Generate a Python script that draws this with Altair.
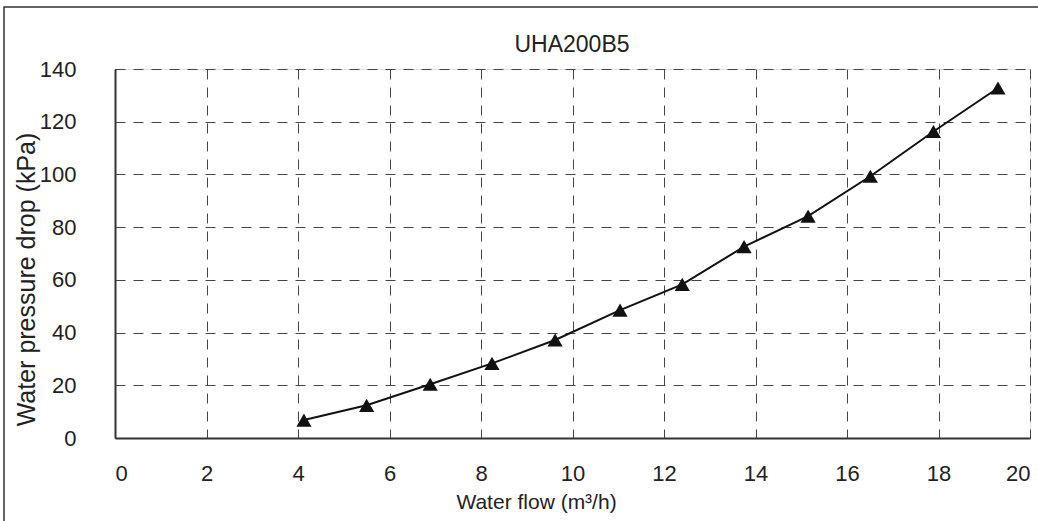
import altair as alt
import pandas as pd

flow = [4.13, 5.5, 6.89, 8.24, 9.62, 11.04, 12.4, 13.75, 15.15, 16.51, 17.89, 19.3]
pressure = [6.8, 12.4, 20.4, 28.3, 37.2, 48.5, 58.3, 72.6, 84.2, 99.3, 116.3, 132.8]
x_ticks = [0, 2, 4, 6, 8, 10, 12, 14, 16, 18, 20]
y_ticks = [0, 20, 40, 60, 80, 100, 120, 140]
chart_title = "UHA200B5"

df = pd.DataFrame({"flow": flow, "pressure": pressure})
FONT = "Liberation Sans"

xenc = alt.X(
    "flow:Q",
    scale=alt.Scale(domain=[0, 20], nice=False, zero=False),
    axis=alt.Axis(
        values=x_ticks, title="Water flow (m³/h)", labelFontSize=22, titleFontSize=21,
        labelPadding=25, labelBaseline="top", grid=True, gridColor="#444", gridDash=[10, 8],
        gridWidth=1, domainColor="#333", domainWidth=2, ticks=False,
        titleX=421, titleY=70, titleAlign="center", titleBaseline="alphabetic",
        titleFontWeight="normal", labelColor="#222", titleColor="#222",
        labelFont=FONT, titleFont=FONT,
    ),
)
yenc = alt.Y(
    "pressure:Q",
    scale=alt.Scale(domain=[0, 140], nice=False),
    axis=alt.Axis(
        values=y_ticks, title="Water pressure drop (kPa)", labelFontSize=22, titleFontSize=25,
        labelPadding=39, grid=True, gridColor="#444", gridDash=[10, 8], gridWidth=1,
        domainColor="#333", domainWidth=2, ticks=False,
        titleAngle=270, titleX=-89, titleY=210, titleAlign="center", titleBaseline="middle",
        titleFontWeight="normal", labelColor="#222", titleColor="#222",
        labelFont=FONT, titleFont=FONT,
    ),
)

line = alt.Chart(df).mark_line(color="#111", strokeWidth=2).encode(x=xenc, y=yenc)
pts = alt.Chart(df).mark_point(shape="triangle-up", filled=True, color="#111", size=230, opacity=1).encode(x=xenc, y=yenc)

one = pd.DataFrame({"t": [chart_title]})
frame = alt.Chart(one).mark_rect(fill=None, stroke="#333", strokeWidth=1.5).encode(
    x=alt.value(-111), x2=alt.value(935), y=alt.value(-62), y2=alt.value(480)
)
title = alt.Chart(one).mark_text(
    font=FONT, fontSize=23, color="#222", align="center", baseline="alphabetic"
).encode(x=alt.value(457), y=alt.value(-17), text="t:N")

chart = alt.layer(frame, line, pts, title).properties(
    width=915,
    height=369,
    autosize=alt.AutoSizeParams(type="none"),
    padding={"left": 115, "top": 69, "right": 8, "bottom": 83},
).configure_view(stroke="#888", strokeWidth=1.5).configure(background="white")

chart.save("out.html", embed_options={"renderer": "svg", "actions": False})
